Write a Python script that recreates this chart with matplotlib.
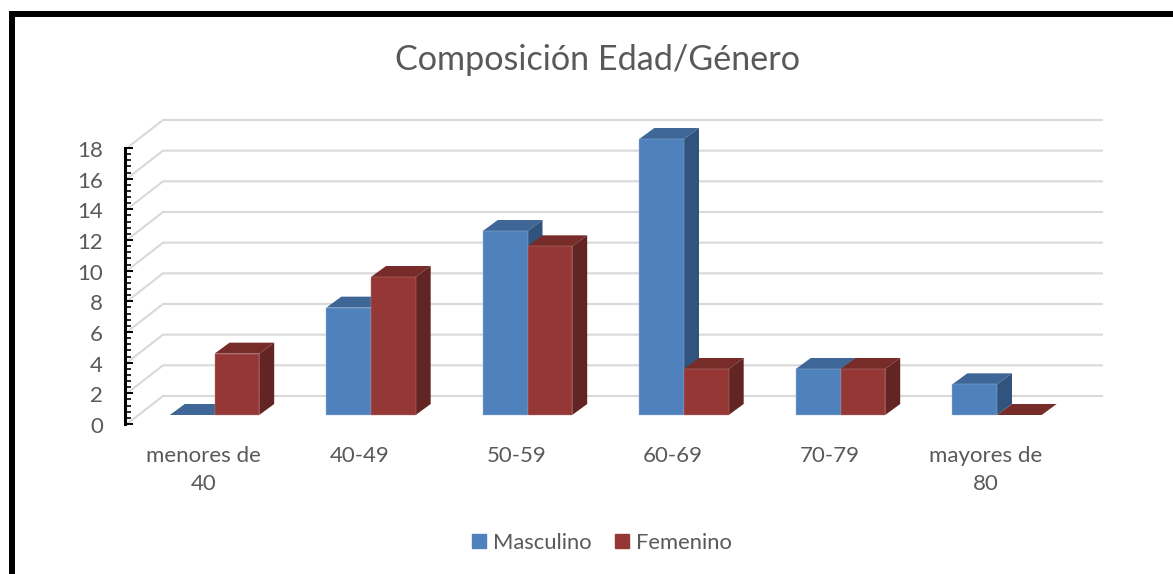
import matplotlib
matplotlib.use("Agg")
import matplotlib.pyplot as plt
from matplotlib.patches import Rectangle, Patch
from matplotlib.ticker import MultipleLocator
from matplotlib.transforms import ScaledTranslation

categories = ["menores de\n40", "40-49", "50-59", "60-69", "70-79", "mayores de\n80"]
masculino = [0, 7, 12, 18, 3, 2]
femenino = [4, 9, 11, 3, 3, 0]
y_ticks = [0, 2, 4, 6, 8, 10, 12, 14, 16, 18]

W, H = 1173, 574
CAT_PX = 156.5
VAL_PX = 15.33
GRAY = "#595959"

plt.rcParams["font.family"] = ["Lato", "DejaVu Sans"]

fig = plt.figure(figsize=(W / 100, H / 100), dpi=100)
fig.patch.set_facecolor("white")

# axes area in pixels, y value 0 on the front axis line
left, right, bottom, top = 127, 1102, 424, 148
ax = fig.add_axes([left / W, 1 - bottom / H, (right - left) / W, (bottom - top) / H])
ax.set_facecolor("none")
ax.set_xlim((left - 214.5) / CAT_PX, (right - 214.5) / CAT_PX)
ax.set_ylim(0, 18)
for s in ["top", "right", "bottom"]:
    ax.spines[s].set_visible(False)
ax.spines["left"].set_linewidth(2.2)
ax.spines["left"].set_position(("outward", 1.4))

ax.set_yticks(y_ticks)
ax.yaxis.set_minor_locator(MultipleLocator(0.4))
ax.tick_params(axis="y", which="major", direction="in", length=6, width=1.4,
               labelsize=16, labelcolor=GRAY, pad=16)
ax.tick_params(axis="y", which="minor", direction="in", length=4.4, width=1.2)
# the numbers sit slightly lower than their ticks
nudge = ScaledTranslation(0, -0.8 / 72, fig.dpi_scale_trans)
for lab in ax.get_yticklabels():
    lab.set_transform(lab.get_transform() + nudge)

ax.set_xticks([i - 11 / CAT_PX for i in range(len(categories))])
ax.set_xticklabels(categories, linespacing=1.5)
ax.tick_params(axis="x", length=0, labelsize=16, labelcolor=GRAY, pad=16)

# back wall gridlines, going from the axis line to the back plane
x0 = ax.get_xlim()[0]
x1 = ax.get_xlim()[1]
wall_x = 36 / CAT_PX
wall_y = 28 / VAL_PX
for v in y_ticks:
    ax.plot([x0, x0 + wall_x, x1], [v, v + wall_y, v + wall_y], color="#D9D9D9",
            lw=1.5, clip_on=False, zorder=1)

# bars stand a bit in front of the wall, floor is 9 px above the axis zero
shift = 9 / VAL_PX
bar_w = 44.7 / CAT_PX
dx = 15 / CAT_PX
dy = 11 / VAL_PX


def bar3d(x, v, front, top_c, side_c, edge, z):
    y0 = shift
    y1 = v + shift
    ax.fill([x, x + bar_w, x + bar_w + dx, x + dx], [y1, y1, y1 + dy, y1 + dy],
            color=top_c, lw=0, clip_on=False, zorder=z)
    if v > 0:
        ax.fill([x + bar_w, x + bar_w + dx, x + bar_w + dx, x + bar_w],
                [y0, y0 + dy, y1 + dy, y1], color=side_c, lw=0, clip_on=False, zorder=z)
        ax.add_patch(Rectangle((x, y0), bar_w, v, facecolor=front, edgecolor=edge,
                               lw=0.3, clip_on=False, zorder=z))


for i in range(len(categories)):
    bar3d(i - bar_w, masculino[i], "#4F81BD", "#3E6797", "#31547E", "#9DB8DA", 3 + i)
    bar3d(i, femenino[i], "#953735", "#772C2A", "#632523", "#B98483", 3.5 + i)

fig.text(597.5 / W, 1 - 60.5 / H, "Composición Edad/Género", ha="center", va="center",
         fontsize=24.6, color=GRAY)

handles = [Patch(color="#4F81BD", label="Masculino"), Patch(color="#953735", label="Femenino")]
fig.legend(handles=handles, loc="center", bbox_to_anchor=(602 / W, 1 - 543 / H), ncol=2,
           frameon=False, fontsize=15.8, labelcolor=GRAY, handlelength=0.62, handleheight=0.62,
           handletextpad=0.3, columnspacing=1.1)

# black frame of the pasted picture, runs off the right and bottom edges
fig.add_artist(Rectangle((12 / W, -0.1), 1.2, 1.1 - 14 / H, transform=fig.transFigure,
                         facecolor="none", edgecolor="black", lw=4.3))

fig.savefig("out.png", dpi=100)
